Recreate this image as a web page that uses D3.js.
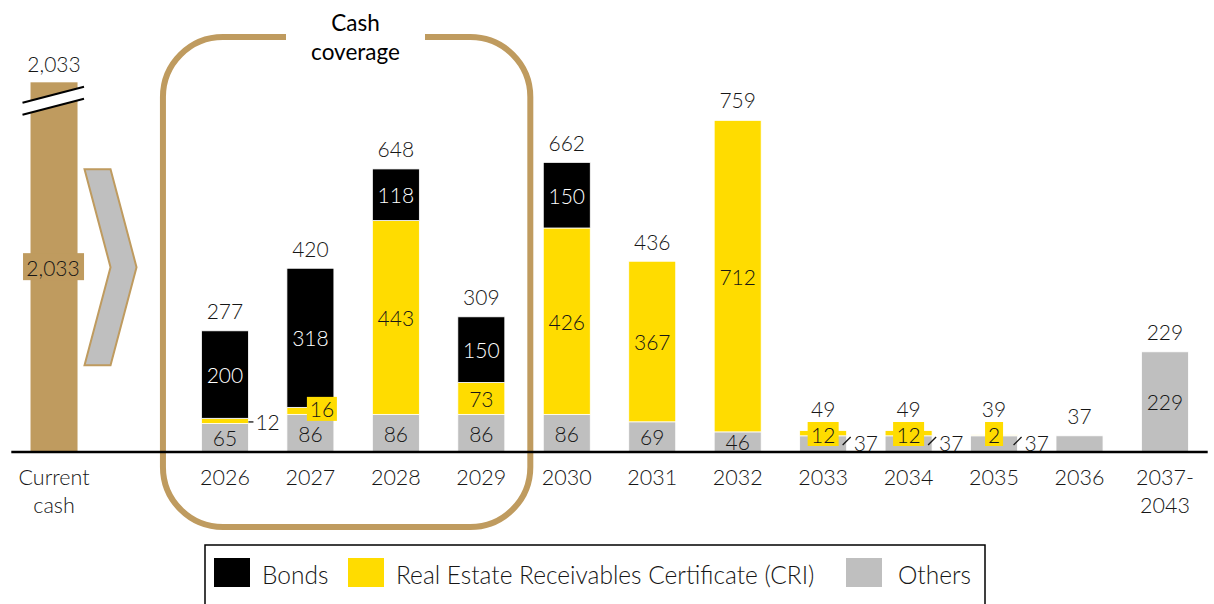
<!DOCTYPE html>
<html>
<head>
<meta charset="utf-8">
<script src="https://cdn.jsdelivr.net/npm/d3@7"></script>
<style>
  html, body { margin: 0; padding: 0; background: #fff; }
  svg { display: block; font-family: Lato, "Open Sans", sans-serif; }
</style>
</head>
<body>
<svg id="chart" width="1214" height="604"></svg>
<script>
// Debt amortization schedule vs. current cash position
const years  = ["2026", "2027", "2028", "2029", "2030", "2031", "2032", "2033", "2034", "2035", "2036", "2037-2043"];
const bonds  = [200, 318, 118, 150, 150, 0, 0, 0, 0, 0, 0, 0];
const cri    = [12, 16, 443, 73, 426, 367, 712, 12, 12, 2, 0, 0];
const others = [65, 86, 86, 86, 86, 69, 46, 37, 37, 37, 37, 229];
const totals = [277, 420, 648, 309, 662, 436, 759, 49, 49, 39, 37, 229];
const currentCash = 2033;
const cashLabel = "Current cash";
const seriesNames = ["Bonds", "Real Estate Receivables Certificate (CRI)", "Others"];

const colors = { bonds: "#000000", cri: "#FFDC00", others: "#BFBFBF", gold: "#BF9B5F" };
const ink = "#161616";
const fmt = d3.format(",");
const NUM = 21;      // value label size
const LIGHT = 300;   // light weight for labels

const svg = d3.select("#chart");

const slots = [cashLabel, "gap", ...years];
const x = d3.scaleBand().domain(slots).range([11.3, 1207.7]).paddingInner(0.45).paddingOuter(0.225);
const y = d3.scaleLinear().domain([0, 800]).range([452, 102]);
const bw = x.bandwidth();
const cx = k => x(k) + bw / 2;

// broken axis: the cash bar is cut off at this display height
const cashDisplayCap = 845;

const rows = years.map((k, i) => ({ key: k, bonds: bonds[i], cri: cri[i], others: others[i], total: totals[i] }));
const stack = d3.stack().keys(["others", "cri", "bonds"])(rows);

// cash coverage frame (2026 – 2029)
const frameL = cx("2026") - 62, frameR = cx("2029") + 49;
svg.append("rect")
  .attr("x", frameL).attr("y", 37).attr("width", frameR - frameL).attr("height", 490)
  .attr("rx", 60).attr("ry", 60)
  .attr("fill", "none").attr("stroke", colors.gold).attr("stroke-width", 6);
svg.append("rect").attr("x", 286).attr("y", 28).attr("width", 139).attr("height", 18).attr("fill", "#fff");
svg.append("text").attr("x", 355.5).attr("y", 22).attr("text-anchor", "middle").attr("dominant-baseline", "central")
  .attr("font-size", 22.5).attr("fill", "#000").text("Cash");
svg.append("text").attr("x", 355.5).attr("y", 51).attr("text-anchor", "middle").attr("dominant-baseline", "central")
  .attr("font-size", 22.5).attr("fill", "#000").text("coverage");

// stacked bars
const fillFor = { bonds: colors.bonds, cri: colors.cri, others: colors.others };
stack.forEach(layer => {
  svg.append("g").selectAll("rect").data(layer.filter(d => d[1] > d[0])).join("rect")
    .attr("x", d => x(d.data.key))
    .attr("y", d => y(d[1]))
    .attr("width", bw)
    .attr("height", d => y(d[0]) - y(d[1]))
    .attr("fill", fillFor[layer.key])
    .attr("stroke", "#fff").attr("stroke-width", 0.8);
});

// current cash bar with break marks
const cashX = x(cashLabel), cashTop = y(cashDisplayCap), cashMid = (cashTop + y(0)) / 2;
svg.append("rect").attr("x", cashX).attr("y", cashTop).attr("width", bw).attr("height", y(0) - cashTop)
  .attr("fill", colors.gold);
const bx0 = cashX - 8, bx1 = cashX + bw + 6.5, by = cashTop + 20.5;
svg.append("polygon")
  .attr("points", [[bx0, by], [bx1, by - 16], [bx1, by - 4], [bx0, by + 12]].map(p => p.join(",")).join(" "))
  .attr("fill", "#fff");
[0, 12].forEach(o => {
  svg.append("line").attr("x1", bx0).attr("y1", by + o).attr("x2", bx1).attr("y2", by - 16 + o)
    .attr("stroke", "#000").attr("stroke-width", 2);
});
svg.append("text").attr("x", cx(cashLabel)).attr("y", cashTop - 19).attr("text-anchor", "middle")
  .attr("dominant-baseline", "central").attr("font-size", NUM).attr("font-weight", LIGHT).attr("fill", ink).text(fmt(currentCash));
svg.append("rect").attr("x", cashX - 7.5).attr("y", cashMid - 14).attr("width", 61).attr("height", 27)
  .attr("fill", colors.gold);
svg.append("text").attr("x", cx(cashLabel) - 1).attr("y", cashMid).attr("text-anchor", "middle")
  .attr("dominant-baseline", "central").attr("font-size", NUM).attr("font-weight", LIGHT).attr("fill", ink).text(fmt(currentCash));

// chevron arrow towards the schedule
const ax = cashX + bw + 7;
svg.append("polygon")
  .attr("points", [[ax, cashMid - 98], [ax + 26, cashMid - 98], [ax + 52, cashMid], [ax + 26, cashMid + 98], [ax, cashMid + 98], [ax + 26, cashMid]]
    .map(p => p.join(",")).join(" "))
  .attr("fill", colors.others).attr("stroke", colors.gold).attr("stroke-width", 2);

// baseline
svg.append("line").attr("x1", x.range()[0]).attr("x2", x.range()[1]).attr("y1", y(0)).attr("y2", y(0))
  .attr("stroke", "#000").attr("stroke-width", 2.5);

// value labels
const lab = svg.append("g").attr("font-size", NUM).attr("font-weight", LIGHT)
  .attr("text-anchor", "middle").attr("dominant-baseline", "central");
function txt(xp, yp, s, fill, anchor) {
  return lab.append("text").attr("x", xp).attr("y", yp).attr("fill", fill || ink)
    .attr("text-anchor", anchor || "middle").text(s);
}
function boxed(xp, yp, s, w) {
  lab.append("rect").attr("x", xp - w / 2).attr("y", yp - 12).attr("width", w).attr("height", 24).attr("fill", colors.cri);
  txt(xp, yp, s);
}
const smallCri = ["2033", "2034", "2035"];
rows.forEach(r => {
  const c = cx(r.key), right = x(r.key) + bw;
  // totals above the bar (kept clear of the boxed CRI callouts)
  const ty = smallCri.includes(r.key) ? Math.min(y(r.total) - 20, 408) : y(r.total) - 20;
  txt(c, ty, fmt(r.total));
  // others
  if (smallCri.includes(r.key)) {
    lab.append("line").attr("x1", right - 4).attr("y1", 445).attr("x2", right + 4).attr("y2", 437)
      .attr("stroke", ink).attr("stroke-width", 1.3);
    txt(right + 7, (y(0) + y(r.others)) / 2 - 1, r.others, ink, "start");
  } else if (r.key !== "2036") {
    txt(c, (y(0) + y(r.others)) / 2, r.others);
  }
  // CRI
  if (r.cri > 0) {
    const top = y(r.others + r.cri), bot = y(r.others), mid = (top + bot) / 2;
    if (bot - top >= 20) txt(c, mid, r.cri);
    else if (r.key === "2026") {
      lab.append("line").attr("x1", right).attr("x2", right + 5).attr("y1", mid + 1).attr("y2", mid + 1)
        .attr("stroke", ink).attr("stroke-width", 1.3);
      txt(right + 7, mid + 1, r.cri, ink, "start");
    } else if (r.key === "2027") {
      boxed(c + 11.5, mid - 2, r.cri, 30);
    } else {
      boxed(c, 434, r.cri, String(r.cri).length > 1 ? 31 : 18);
    }
  }
  // bonds
  if (r.bonds > 0) {
    const top = y(r.total), bot = y(r.others + r.cri);
    txt(c, (top + bot) / 2, r.bonds, "#fff");
  }
});

// category labels
const xl = svg.append("g").attr("font-size", 21.5).attr("font-weight", LIGHT).attr("fill", ink)
  .attr("text-anchor", "middle").attr("dominant-baseline", "central");
[cashLabel, ...years].forEach(k => {
  const lines = k === cashLabel ? ["Current", "cash"] : k.includes("-") ? [k.split("-")[0] + "-", k.split("-")[1]] : [k];
  lines.forEach((s, i) => xl.append("text").attr("x", cx(k)).attr("y", 477 + i * 28).text(s));
});

// legend
const lg = svg.append("g");
lg.append("rect").attr("x", 205).attr("y", 545).attr("width", 780).attr("height", 80)
  .attr("fill", "#fff").attr("stroke", "#000").attr("stroke-width", 1.5);
const legendItems = [
  { name: seriesNames[0], color: colors.bonds, sx: 214, tx: 262 },
  { name: seriesNames[1], color: colors.cri, sx: 348, tx: 396 },
  { name: seriesNames[2], color: colors.others, sx: 846, tx: 898 }
];
legendItems.forEach(it => {
  lg.append("rect").attr("x", it.sx).attr("y", 558).attr("width", 36).attr("height", 29).attr("fill", it.color);
  lg.append("text").attr("x", it.tx).attr("y", 574).attr("dominant-baseline", "central")
    .attr("font-size", 24.5).attr("font-weight", LIGHT).attr("fill", ink).text(it.name);
});
</script>
</body>
</html>
